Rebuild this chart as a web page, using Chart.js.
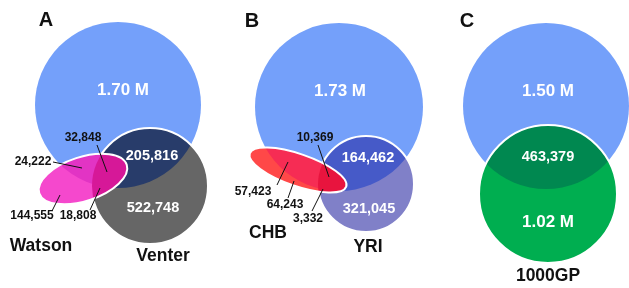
<!DOCTYPE html>
<html>
<head>
<meta charset="utf-8">
<script src="https://cdn.jsdelivr.net/npm/chart.js@4"></script>
<style>
  html, body { margin: 0; padding: 0; background: #fff; }
  #wrap { width: 629px; height: 288px; }
</style>
</head>
<body>
<div id="wrap"><canvas id="venn"></canvas></div>
<script>
// panel letters and set names
const panelLetters = ['A', 'B', 'C'];
const setNames = ['Watson', 'Venter', 'CHB', 'YRI', '1000GP'];

// region counts, as printed
const bigCounts = ['1.70 M', '1.73 M', '1.50 M'];
const overlapCounts = ['205,816', '164,462', '463,379'];
const smallCounts = ['522,748', '321,045', '1.02 M'];
const ellipseCountsA = ['32,848', '24,222', '144,555', '18,808'];
const ellipseCountsB = ['10,369', '57,423', '64,243', '3,332'];

// layout (chart units = pixels, y down)
const bigCircle = [[118, 105, 83], [339, 107, 84], [546, 106, 83]];
const smallCircle = [[150, 186, 58], [366, 184, 48], [548, 194, 69]];
const ellipses = [[83, 179, 46, 22, -18], [298, 170, 51, 16, 19]];
const letterPos = [[46, 20], [252, 21], [467, 21]];
const namePos = [[41, 246], [163, 256], [268, 233], [368, 247], [548, 276]];
const bigPos = [[123, 90], [340, 91], [548, 91]];
const overlapPos = [[152, 156], [368, 158], [548, 157]];
const smallPos = [[153, 208], [369, 209], [548, 222]];
const ellLabelPos = [
  [[83, 138], [33, 162], [32, 216], [78, 216]],
  [[315, 138], [253, 192], [285, 205], [308, 219]]
];
const leaders = [
  [[[97, 145], [107, 172]], [[53, 162], [82, 168]], [[52, 211], [60, 195]], [[90, 210], [100, 188]]],
  [[[318, 145], [329, 177]], [[277, 185], [288, 162]], [[288, 198], [294, 181]], [[312, 211], [323, 189]]]
];

const blue = 'rgb(116,160,250)';
const smallColors = ['rgb(102,102,102)', 'rgb(128,128,200)', 'rgb(0,174,80)'];
const overlapColors = ['rgb(40,60,106)', 'rgb(70,90,200)', 'rgb(0,136,80)'];
const ellColors = [
  ['rgb(245,72,205)', 'rgb(226,52,196)', 'rgb(214,24,152)'],
  ['rgb(255,72,72)', 'rgb(246,44,84)', 'rgb(232,20,62)']
];

const leaderSets = [];
leaders.forEach(group => group.forEach(seg => {
  leaderSets.push({
    data: seg.map(p => ({ x: p[0], y: p[1] })),
    showLine: true,
    borderColor: '#111',
    borderWidth: 1,
    pointRadius: 0
  });
}));

function shapePath(ctx, chart, s, rot) {
  const x = chart.scales.x, y = chart.scales.y;
  const px = x.getPixelForValue(s[0]);
  const py = y.getPixelForValue(s[1]);
  const rx = Math.abs(x.getPixelForValue(s[0] + s[2]) - px);
  const ry = Math.abs(y.getPixelForValue(s[1] + (s.length > 3 ? s[3] : s[2])) - py);
  ctx.beginPath();
  ctx.ellipse(px, py, rx, ry, (rot || 0) * Math.PI / 180, 0, Math.PI * 2);
}

const vennPlugin = {
  id: 'venn',
  beforeDatasetsDraw(chart) {
    const ctx = chart.ctx;
    for (let i = 0; i < 3; i++) {
      ctx.save();
      shapePath(ctx, chart, bigCircle[i]);
      ctx.fillStyle = blue;
      ctx.fill();
      shapePath(ctx, chart, smallCircle[i]);
      ctx.fillStyle = smallColors[i];
      ctx.fill();
      shapePath(ctx, chart, bigCircle[i]);
      ctx.clip();
      shapePath(ctx, chart, smallCircle[i]);
      ctx.fillStyle = overlapColors[i];
      ctx.fill();
      ctx.restore();
      ctx.save();
      shapePath(ctx, chart, smallCircle[i]);
      ctx.strokeStyle = '#fff';
      ctx.lineWidth = 2;
      ctx.stroke();
      ctx.restore();
    }
    ellipses.forEach((e, i) => {
      const c = ellColors[i];
      ctx.save();
      shapePath(ctx, chart, e, e[4]);
      ctx.fillStyle = c[0];
      ctx.fill();
      ctx.clip();
      shapePath(ctx, chart, bigCircle[i]);
      ctx.fillStyle = c[1];
      ctx.fill();
      shapePath(ctx, chart, smallCircle[i]);
      ctx.fillStyle = c[2];
      ctx.fill();
      ctx.restore();
      ctx.save();
      shapePath(ctx, chart, e, e[4]);
      ctx.strokeStyle = '#fff';
      ctx.lineWidth = 2;
      ctx.stroke();
      ctx.restore();
    });
  },
  afterDatasetsDraw(chart) {
    const ctx = chart.ctx;
    const x = chart.scales.x, y = chart.scales.y;
    const put = (txt, p, font, color) => {
      ctx.font = font;
      ctx.fillStyle = color;
      ctx.fillText(txt, x.getPixelForValue(p[0]), y.getPixelForValue(p[1]));
    };
    ctx.save();
    ctx.textAlign = 'center';
    ctx.textBaseline = 'middle';
    const ff = '"Liberation Sans", Arial, sans-serif';
    panelLetters.forEach((t, i) => put(t, letterPos[i], 'bold 20px ' + ff, '#111'));
    setNames.forEach((t, i) => put(t, namePos[i], 'bold 17.5px ' + ff, '#111'));
    bigCounts.forEach((t, i) => put(t, bigPos[i], 'bold 17px ' + ff, '#fff'));
    overlapCounts.forEach((t, i) => put(t, overlapPos[i], 'bold 14.5px ' + ff, '#fff'));
    smallCounts.forEach((t, i) => put(t, smallPos[i], (i === 2 ? 'bold 17px ' : 'bold 14.5px ') + ff, '#fff'));
    ellipseCountsA.forEach((t, i) => put(t, ellLabelPos[0][i], 'bold 12px ' + ff, '#111'));
    ellipseCountsB.forEach((t, i) => put(t, ellLabelPos[1][i], 'bold 12px ' + ff, '#111'));
    ctx.restore();
  }
};

new Chart(document.getElementById('venn').getContext('2d'), {
  type: 'scatter',
  data: { datasets: leaderSets },
  options: {
    responsive: true,
    maintainAspectRatio: false,
    animation: false,
    layout: { padding: 0 },
    scales: {
      x: { type: 'linear', min: 0, max: 629, display: false },
      y: { type: 'linear', min: 0, max: 288, reverse: true, display: false }
    },
    plugins: {
      legend: { display: false },
      tooltip: { enabled: false }
    }
  },
  plugins: [vennPlugin]
});
</script>
</body>
</html>
